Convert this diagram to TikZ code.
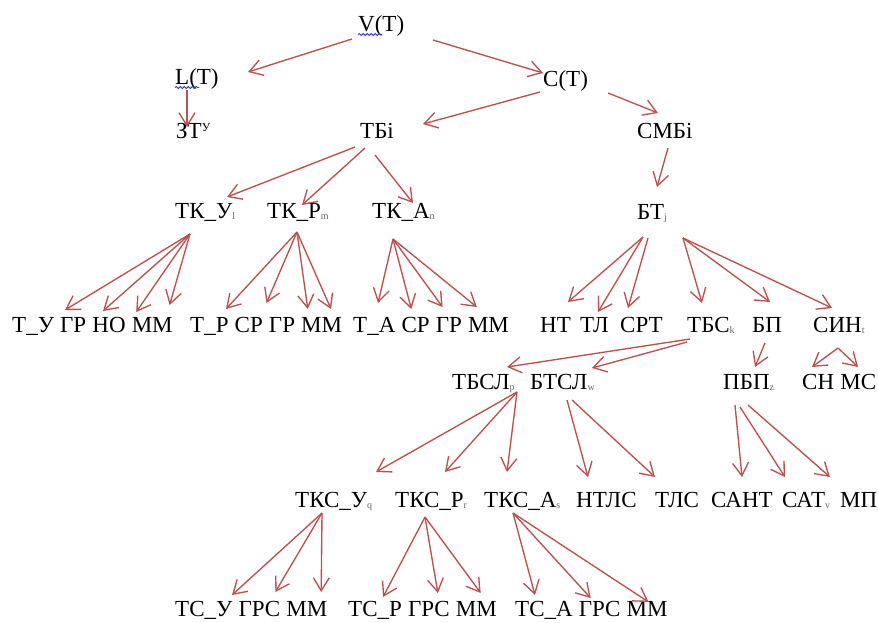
\documentclass[tikz,border=0pt]{standalone}
\usepackage{fontspec}
\setmainfont{Liberation Serif}
\usetikzlibrary{arrows.meta,decorations.pathmorphing}
\definecolor{linkred}{HTML}{C0504D}
\definecolor{spellblue}{HTML}{2030FF}
% small grey index letter set low after a label
\newcommand\lowidx[1]{{\fontsize{10}{10}\selectfont\color{black!60}\raisebox{-1.5pt}{#1}}}
% arrow from a point near one label to a point near another (offsets from base west)
\newcommand\linkto[4]{\draw[arr] ([shift={#2}]#1.base west) -- ([shift={#4}]#3.base west);}
\begin{document}
\begin{tikzpicture}[x=1pt,y=-1pt,
  lbl/.style={anchor=base west, inner sep=0pt, font=\fontsize{23}{27}\selectfont},
  arr/.style={draw=linkred, line width=1.35pt,
    -{Straight Barb[length=13pt,width=16pt,line width=1.35pt]}},
  wavy/.style={draw=spellblue, line width=0.8pt, decorate,
    decoration={snake, amplitude=1.1pt, segment length=4pt}}]
\useasboundingbox (0,0) rectangle (878,622);
\def\wsp{5.75pt}

% top levels
\node[lbl] (vt) at (358,31) {V(T)};
\node[lbl] (lt) at (175,84) {L(T)};
\node[lbl] (ct) at (543,86) {C(T)};
\node[lbl] (zt) at (176,138) {ЗТ\raisebox{7pt}{\fontsize{12}{12}\selectfont У}};
\node[lbl] (tbi) at (360,138) {ТБі};
\node[lbl] (smbi) at (637,138) {СМБі};
\node[lbl] (tky) at (175,218) {ТК\_У\lowidx{l}};
\node[lbl] (tkr) at (267,218) {ТК\_Р\lowidx{m}};
\node[lbl] (tka) at (372,218) {ТК\_А\lowidx{n}};
\node[lbl] (btj) at (637,219) {БТ\lowidx{j}};

% fourth row
\node[lbl] (tu)   at (12,332)  {Т\_У};
\node[lbl] (gr1)  at ([xshift=\wsp]tu.base east)  {ГР};
\node[lbl] (no)   at ([xshift=\wsp]gr1.base east) {НО};
\node[lbl] (mm1)  at ([xshift=\wsp]no.base east)  {ММ};
\node[lbl] (tr)   at (190,332) {Т\_Р};
\node[lbl] (sr1)  at ([xshift=\wsp]tr.base east)  {СР};
\node[lbl] (gr2)  at ([xshift=\wsp]sr1.base east) {ГР};
\node[lbl] (mm2)  at ([xshift=\wsp]gr2.base east) {ММ};
\node[lbl] (ta)   at (353,332) {Т\_А};
\node[lbl] (sr2)  at ([xshift=\wsp]ta.base east)  {СР};
\node[lbl] (gr3)  at ([xshift=\wsp]sr2.base east) {ГР};
\node[lbl] (mm3)  at ([xshift=\wsp]gr3.base east) {ММ};
\node[lbl] (nt)   at (540,332) {НТ};
\node[lbl] (tl)   at (580,332) {ТЛ};
\node[lbl] (srt)  at (620,332) {СРТ};
\node[lbl] (tbs)  at (687,332) {ТБС\lowidx{k}};
\node[lbl] (bp)   at (752,332) {БП};
\node[lbl] (sin)  at (813,332) {СИН\lowidx{t}};

% fifth row
\node[lbl] (tbsl) at (452,389) {ТБСЛ\lowidx{p}};
\node[lbl] (btsl) at (530,389) {БТСЛ\lowidx{w}};
\node[lbl] (pbp)  at (723,389) {ПБП\lowidx{z}};
\node[lbl] (sn)   at (802,389) {СН};
\node[lbl] (ms)   at ([xshift=\wsp]sn.base east) {МС};

% sixth row
\node[lbl] (tksu) at (295,507) {ТКС\_У\lowidx{q}};
\node[lbl] (tksr) at (395,507) {ТКС\_Р\lowidx{r}};
\node[lbl] (tksa) at (484,507) {ТКС\_А\lowidx{s}};
\node[lbl] (ntls) at (576,507) {НТЛС};
\node[lbl] (tls)  at (655,507) {ТЛС};
\node[lbl] (sant) at (711,507) {САНТ};
\node[lbl] (sat)  at (782,507) {САТ\lowidx{v}};
\node[lbl] (mp)   at (840,507) {МП};

% bottom row
\node[lbl] (tsu)  at (175,616) {ТС\_У};
\node[lbl] (grs1) at ([xshift=\wsp]tsu.base east)  {ГРС};
\node[lbl] (mm4)  at ([xshift=\wsp]grs1.base east) {ММ};
\node[lbl] (tsr)  at (348,616) {ТС\_Р};
\node[lbl] (grs2) at ([xshift=\wsp]tsr.base east)  {ГРС};
\node[lbl] (mm5)  at ([xshift=\wsp]grs2.base east) {ММ};
\node[lbl] (tsa)  at (515,616) {ТС\_А};
\node[lbl] (grs3) at ([xshift=\wsp]tsa.base east)  {ГРС};
\node[lbl] (mm6)  at ([xshift=\wsp]grs3.base east) {ММ};

% spell-check underlines
\draw[wavy] ([shift={(0,3.5)}]vt.base west) -- ++(24,0);
\draw[wavy] ([shift={(0,3.5)}]lt.base west) -- ++(24,0);

% connectors
\linkto{vt}{(-6,8)}{lt}{(73,-12)}
\linkto{vt}{(75,9)}{ct}{(0,-13)}
\linkto{lt}{(12,6)}{zt}{(11,-11)}
\linkto{ct}{(-3,6)}{tbi}{(63,-14)}
\linkto{ct}{(65,7)}{smbi}{(21,-25)}
\linkto{tbi}{(-5,9)}{tky}{(52,-21)}
\linkto{tbi}{(5,10)}{tkr}{(35,-13)}
\linkto{tbi}{(15,17)}{tka}{(41,-15)}
\linkto{smbi}{(31,10)}{btj}{(20,-32)}

\linkto{tky}{(15,16)}{tu}{(53,-22)}
\linkto{tky}{(15,16)}{gr1}{(43,-21)}
\linkto{tky}{(15,16)}{no}{(44,-20)}
\linkto{tky}{(15,16)}{mm1}{(38,-27)}

\linkto{tkr}{(30,14)}{tr}{(36,-23)}
\linkto{tkr}{(30,14)}{sr1}{(32,-29)}
\linkto{tkr}{(30,14)}{gr2}{(39,-23)}
\linkto{tkr}{(30,14)}{mm2}{(30,-23)}

\linkto{tka}{(21,21)}{ta}{(25,-29)}
\linkto{tka}{(21,21)}{sr2}{(10,-23)}
\linkto{tka}{(21,21)}{gr3}{(7,-25)}
\linkto{tka}{(21,21)}{mm3}{(9,-25)}

\linkto{btj}{(6,18)}{nt}{(28,-30)}
\linkto{btj}{(6,18)}{tl}{(18,-20)}
\linkto{btj}{(11,19)}{srt}{(8,-24)}
\linkto{btj}{(46,19)}{tbs}{(15,-29)}
\linkto{btj}{(46,19)}{bp}{(18,-30)}
\linkto{btj}{(46,19)}{sin}{(19,-24)}

\linkto{tbs}{(3,7)}{tbsl}{(55,-22)}
\linkto{tbs}{(0,10)}{btsl}{(62,-21)}
\linkto{bp}{(13,11)}{pbp}{(32,-22)}
\linkto{sin}{(25,16)}{sn}{(10,-22)}
\linkto{sin}{(25,16)}{ms}{(18,-22)}

\linkto{tbsl}{(65,3)}{tksu}{(81,-35)}
\linkto{tbsl}{(65,3)}{tksr}{(50,-35)}
\linkto{tbsl}{(65,3)}{tksa}{(23,-35)}
\linkto{btsl}{(37,11)}{ntls}{(12,-30)}
\linkto{btsl}{(42,11)}{tls}{(0,-30)}
\linkto{pbp}{(12,16)}{sant}{(31,-30)}
\linkto{pbp}{(17,18)}{sat}{(3,-30)}
\linkto{pbp}{(25,16)}{mp}{(-10,-30)}

\linkto{tksu}{(27,6)}{tsu}{(57,-21)}
\linkto{tksu}{(27,6)}{grs1}{(37,-24)}
\linkto{tksu}{(27,6)}{mm4}{(35,-24)}
\linkto{tksr}{(30,10)}{tsr}{(35,-19)}
\linkto{tksr}{(30,10)}{grs2}{(30,-23)}
\linkto{tksr}{(30,10)}{mm5}{(25,-23)}
\linkto{tksa}{(29,6)}{tsa}{(20,-21)}
\linkto{tksa}{(29,6)}{grs3}{(12,-18)}
\linkto{tksa}{(29,6)}{mm6}{(22,-14)}
\end{tikzpicture}
\end{document}
